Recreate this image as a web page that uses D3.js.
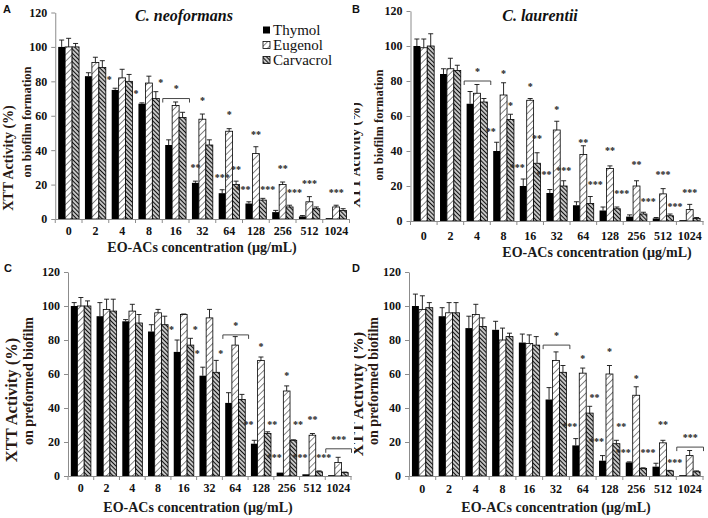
<!DOCTYPE html>
<html><head><meta charset="utf-8">
<script src="https://cdn.jsdelivr.net/npm/d3@7"></script>
<style>body{margin:0;background:#fff}svg{display:block}</style>
</head><body>
<svg id="c" width="708" height="518"></svg>
<script>
const categories = ["0","2","4","8","16","32","64","128","256","512","1024"];
const seriesNames = ["Thymol","Eugenol","Carvacrol"];
const yTicks = [0,20,40,60,80,100,120];

// Panel A - C. neoformans, biofilm formation
const A_thymol = [100,83,75,67,43,21,15,9,4,1.5,0.5];
const A_thymolErr = [4,2,1,0.5,3,1,2,1,1,0.5,0];
const A_eugenol = [100,91,82,79,66,58,51,38,20,10,7];
const A_eugenolErr = [5,3,5,4,2,3,1.5,4,1.5,3,1];
const A_carvacrol = [100,88,80,70,59,43,20,11,7,6,5];
const A_carvacrolErr = [2,4,4,4,3,3,2,1,1,1,1];
// Panel B - C. laurentii, biofilm formation
const B_thymol = [100,84,67,40,20,16,9,6,2.5,1.5,0.5];
const B_thymolErr = [4,3,7,5,4,2,2,2,1,0.5,0];
const B_eugenol = [99,87,73,72,69,52,38,30,20,15.5,6.5];
const B_eugenolErr = [5,6,5,7,1,5,5,1.5,3,3,3];
const B_carvacrol = [100,86,68,58,33,20,10,7,4,3,1.5];
const B_carvacrolErr = [7,3,2,3,6,3,4,1,1,1,0.5];
// Panel C - C. neoformans, preformed biofilm
const C_thymol = [100,94,91,85,73,59,43,19,2,1,0.5];
const C_thymolErr = [2,8,1,4,7,5,6,2,0,0,0];
const C_eugenol = [100,98,97,96,95,93,77,68,50,24,8];
const C_eugenolErr = [5,6,4,2,0.3,5,5,2,3,1,3];
const C_carvacrol = [100,97,90,89,77,61,45,25,21,2.5,2];
const C_carvacrolErr = [3,7,5,5,4,7,3,1,0.3,0.5,0.3];
// Panel D - C. laurentii, preformed biofilm
const D_thymol = [100,94,87,86,78.5,45,18,9,8,5.5,0.5];
const D_thymolErr = [7,5,7,5,5,7,4,3,0.3,2,0];
const D_eugenol = [98,96,95,80,78,68,60.5,60,47.5,19.5,12];
const D_eugenolErr = [8,6,6,7,5,5,3,5,5,1.5,3];
const D_carvacrol = [99,96,88,82,77,61,37,19,4.5,3,2.5];
const D_carvacrolErr = [3,6,5,2,5,4,4,2,0.3,0.3,0.5];

// significance marks: [category, slot, value, text]
const A_stars = [["4","L",82,"*"],["8","L",74,"*"],["8","R",80,"*"],["32","E",70,"*"],["64","E",61.5,"*"],
  ["32","T",31,"**"],["64","T",25,"***"],["64","C",29.6,"**"],["128","L",18,"***"],["128","R",18,"***"],
  ["128","E",50,"**"],["256","E",30,"**"],["256","R",16,"***"],["512","E",21.5,"***"],["1024","E",16,"***"]];
const A_brackets = [["16",70,"*"]];
const B_stars = [["8","E",85,"*"],["8","C",67,"*"],["8","L",52,"**"],["16","E",78,"*"],["16","L",31.5,"***"],
  ["16","C",48,"**"],["32","L",27.5,"***"],["32","E",64.5,"*"],["32","C",30,"***"],["64","E",45.5,"**"],
  ["64","R",22,"***"],["128","E",41,"**"],["128","R",16.5,"***"],["256","E",33,"**"],["256","R",12,"***"],
  ["512","E",27.5,"***"],["512","R",9,"***"],["1024","E",17,"***"]];
const B_brackets = [["4",80,"*"]];
const C_stars = [["16","L",87,"*"],["16","R",87,"*"],["32","L",73,"*"],["32","R",73,"*"],["128","E",77,"*"],
  ["128","L",31,"**"],["128","R",31,"**"],["256","E",60,"*"],["256","L",12,"***"],["256","R",31,"**"],
  ["512","L",12,"***"],["512","R",12,"***"],["512","E",34,"**"]];
const C_brackets = [["64",83,"*"],["1024",16,"***"]];
const D_stars = [["64","E",70,"*"],["64","R",47,"**"],["64","L",30,"***"],["128","E",74,"*"],["128","R",30,"**"],
  ["128","L",21,"***"],["256","E",58,"*"],["256","L",15,"***"],["256","R",15,"***"],["512","E",31,"**"],
  ["512","R",9,"***"]];
const D_brackets = [["32",77,"*"],["1024",17,"***"]];

const SERIF = "'Liberation Serif','Times New Roman',serif";
const svg = d3.select("#c");
const defs = svg.append("defs");
function pattern(id, angle, size, sw, color){
  const p = defs.append("pattern").attr("id",id).attr("patternUnits","userSpaceOnUse")
    .attr("width",size).attr("height",size).attr("patternTransform",`rotate(${angle})`);
  p.append("rect").attr("width",size).attr("height",size).attr("fill","#fff");
  p.append("line").attr("x1",size/2).attr("y1",-1).attr("x2",size/2).attr("y2",size+1)
    .attr("stroke",color).attr("stroke-width",sw);
}
pattern("eug",45,4.6,0.7,"#555");
pattern("car",-45,3,1.5,"#111");
const fills = ["#000","url(#eug)","url(#car)"];

defs.append("clipPath").attr("id","rightclip").append("rect").attr("x",354).attr("y",0).attr("width",354).attr("height",518);

const panels = [
  {letter:"A", lx:3, ly:13, x0:55.25, x1:349.5, yb:219, yt:12.5,
   data:[A_thymol,A_eugenol,A_carvacrol], err:[A_thymolErr,A_eugenolErr,A_carvacrolErr], stars:A_stars, brackets:A_brackets,
   t1:{x:8.5,y:158,s:14}, t2:{x:27,y:122,s:12.5,txt:"on biofilm formation"}, tickPad:7.5, xt:{x:202,y:252},
   title:{txt:"C. neoformans",x:184,y:21}, legend:{x:263,y:30}},
  {letter:"B", lx:352, ly:13, x0:410.5, x1:703, yb:221, yt:11,
   data:[B_thymol,B_eugenol,B_carvacrol], err:[B_thymolErr,B_eugenolErr,B_carvacrolErr], stars:B_stars, brackets:B_brackets,
   t1:{x:355.5,y:155,s:14,clip:true}, t2:{x:379,y:125,s:12.5,txt:"on biofilm formation"}, tickPad:10.5, xt:{x:597,y:257},
   title:{txt:"C. laurentii",x:540,y:21}},
  {letter:"C", lx:4, ly:272, x0:68, x1:351, yb:476, yt:272,
   data:[C_thymol,C_eugenol,C_carvacrol], err:[C_thymolErr,C_eugenolErr,C_carvacrolErr], stars:C_stars, brackets:C_brackets,
   t1:{x:11,y:400,s:16.5}, t2:{x:28,y:381,s:14,txt:"on preformed biofilm"}, tickPad:7.5, xt:{x:198,y:512}},
  {letter:"D", lx:352, ly:272, x0:409, x1:703, yb:476, yt:272,
   data:[D_thymol,D_eugenol,D_carvacrol], err:[D_thymolErr,D_eugenolErr,D_carvacrolErr], stars:D_stars, brackets:D_brackets,
   t1:{x:357,y:394,s:16.5,clip:true}, t2:{x:373,y:381,s:14,txt:"on preformed biofilm"}, tickPad:8, xt:{x:556,y:512}}
];

panels.forEach(P => {
  const g = svg.append("g");
  const x = d3.scaleBand().domain(categories).range([P.x0, P.x1]).paddingInner(0).paddingOuter(0);
  const bw = x.bandwidth();
  const xs = d3.scaleBand().domain(seriesNames).range([bw*0.11, bw*0.89]).padding(0);
  const y = d3.scaleLinear().domain([0,120]).range([P.yb, P.yt]);
  const sw = xs.bandwidth();

  // bars
  seriesNames.forEach((s, si) => {
    g.append("g").selectAll("rect").data(P.data[si]).join("rect")
      .attr("x",(d,i)=>x(categories[i])+xs(s))
      .attr("y",d=>y(d)).attr("width",sw).attr("height",d=>P.yb-y(d))
      .attr("fill",fills[si]).attr("stroke","#000").attr("stroke-width",si===0?0:0.8);
  });
  // error bars
  seriesNames.forEach((s, si) => {
    const eg = g.append("g").attr("stroke","#111").attr("stroke-width",0.9);
    P.data[si].forEach((d,i)=>{
      const e = P.err[si][i]; if(!e) return;
      const cx = x(categories[i])+xs(s)+sw/2;
      eg.append("line").attr("x1",cx).attr("x2",cx).attr("y1",y(d)).attr("y2",y(d+e));
      eg.append("line").attr("x1",cx-2.5).attr("x2",cx+2.5).attr("y1",y(d+e)).attr("y2",y(d+e));
    });
  });

  // y axis
  const ya = g.append("g").attr("transform",`translate(${P.x0},0)`)
    .call(d3.axisLeft(y).tickValues(yTicks).tickSize(4).tickSizeOuter(0).tickPadding(4));
  ya.select(".domain").attr("stroke","#8c8c8c");
  ya.selectAll(".tick line").attr("stroke","#8c8c8c");
  ya.selectAll("text").attr("font-family",SERIF).attr("font-weight","bold").attr("font-size",12).attr("fill","#111");

  // x axis
  const xa = g.append("g").attr("transform",`translate(0,${P.yb})`)
    .call(d3.axisBottom(x).tickSize(0).tickPadding(P.tickPad));
  xa.select(".domain").attr("stroke","#8c8c8c");
  xa.selectAll("text").attr("font-family",SERIF).attr("font-weight","bold").attr("font-size",12).attr("fill","#111");
  const bounds = categories.map(c=>x(c)).concat([P.x1]);
  xa.append("g").selectAll("line").data(bounds).join("line")
    .attr("x1",d=>d).attr("x2",d=>d).attr("y1",0).attr("y2",4).attr("stroke","#8c8c8c");

  // stars
  const slotX = (c, slot) => {
    const b = x(c);
    if(slot==="L") return b+0.5;
    if(slot==="R") return b+bw-1.5;
    const si = {T:0,E:1,C:2}[slot];
    return b + xs(seriesNames[si]) + sw/2;
  };
  const starText = (cx, v, t) => g.append("text").attr("x",cx).attr("y",y(v)+5)
      .attr("text-anchor","middle").attr("font-family",SERIF).attr("font-weight","bold")
      .attr("font-size",10).attr("fill","#222").text(t);
  P.stars.forEach(([c,slot,v,t]) => starText(slotX(c,slot), v, t));
  P.brackets.forEach(([c,v,t]) => {
    const b0 = x(c)+0.5, b1 = x(c)+bw+0.5, yy = y(v);
    g.append("path").attr("d",`M${b0},${yy+4}V${yy}H${b1}V${yy+4}`).attr("fill","none")
      .attr("stroke","#333").attr("stroke-width",0.9);
    starText((b0+b1)/2, v+6.5, t);
  });

  // titles
  const t1g = g.append("g");
  if(P.t1.clip) t1g.attr("clip-path","url(#rightclip)");
  t1g.append("text").attr("transform",`translate(${P.t1.x},${P.t1.y}) rotate(-90)`)
    .attr("text-anchor","middle").attr("dominant-baseline","central").attr("font-family",SERIF).attr("font-weight","bold")
    .attr("font-size",P.t1.s).attr("fill","#2a1a14").text("XTT Activity (%)");
  g.append("text").attr("transform",`translate(${P.t2.x},${P.t2.y}) rotate(-90)`)
    .attr("text-anchor","middle").attr("dominant-baseline","central").attr("font-family",SERIF).attr("font-weight","bold")
    .attr("font-size",P.t2.s).attr("fill","#2a1a14").text(P.t2.txt);
  g.append("text").attr("x",P.xt.x).attr("y",P.xt.y).attr("text-anchor","middle")
    .attr("font-family",SERIF).attr("font-weight","bold").attr("font-size",14).attr("fill","#1a1a1a")
    .text("EO-ACs concentration (µg/mL)");
  g.append("text").attr("x",P.lx).attr("y",P.ly).attr("font-family","'Liberation Sans',Arial,sans-serif")
    .attr("font-weight","bold").attr("font-size",11).attr("fill","#111").text(P.letter);
  if(P.title) g.append("text").attr("x",P.title.x).attr("y",P.title.y).attr("text-anchor","middle")
    .attr("font-family",SERIF).attr("font-weight","bold").attr("font-style","italic").attr("font-size",16)
    .attr("fill","#111").text(P.title.txt);
  if(P.legend){
    const lg = g.append("g").attr("transform",`translate(${P.legend.x},${P.legend.y})`);
    seriesNames.forEach((s,si)=>{
      lg.append("rect").attr("x",0).attr("y",si*15-3.5).attr("width",7).attr("height",7)
        .attr("fill",fills[si]).attr("stroke","#000").attr("stroke-width",si===0?0:0.8);
      lg.append("text").attr("x",10).attr("y",si*15+5).attr("font-family",SERIF).attr("font-size",15)
        .attr("fill","#111").text(s);
    });
  }
});
</script>
</body></html>
